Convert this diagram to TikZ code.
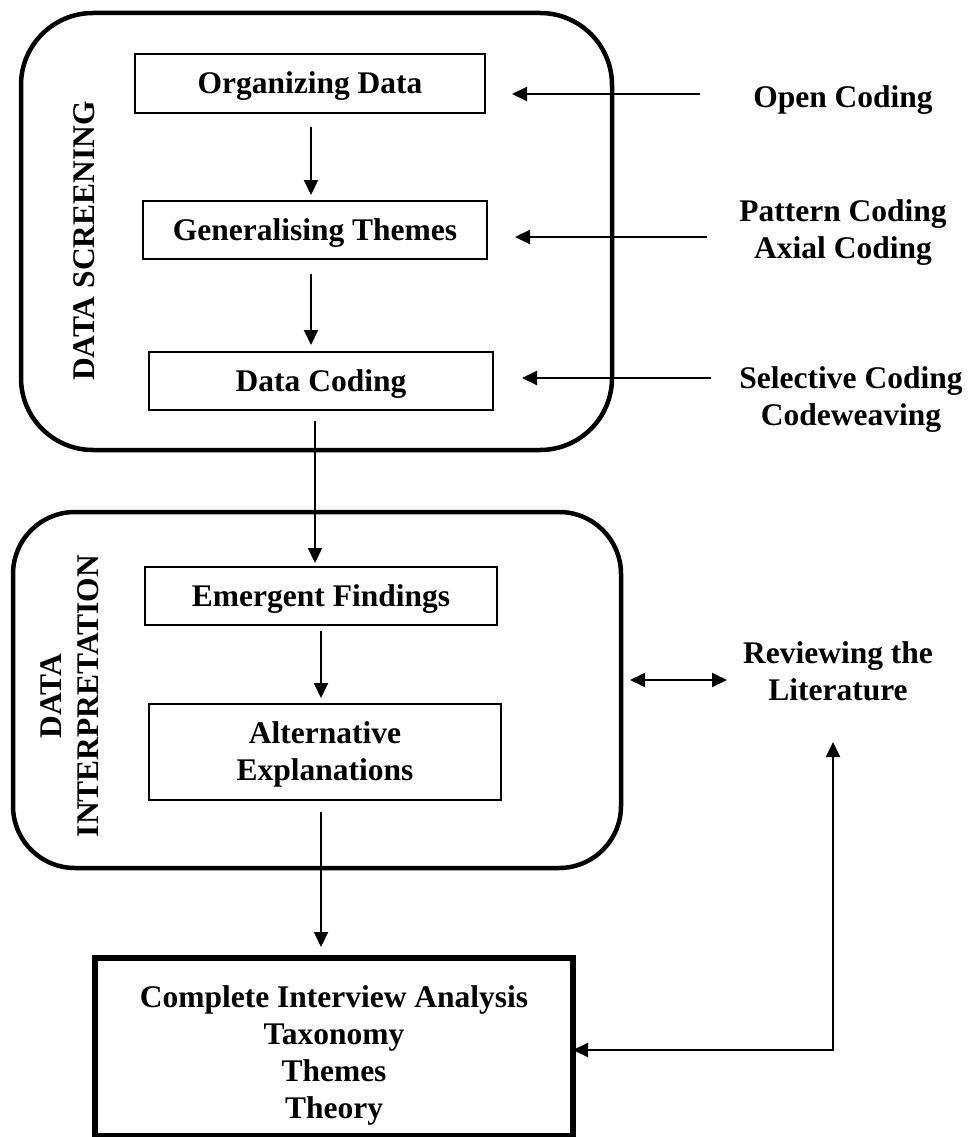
\documentclass[tikz,border=0pt]{standalone}
\usepackage{fontspec}
\setmainfont{Liberation Serif}
\usetikzlibrary{arrows.meta}
\newcommand\lowr[2]{\raisebox{-#1}[\height][\depth]{\begin{tabular}{@{}c@{}}#2\end{tabular}}}
\begin{document}
\begin{tikzpicture}[x=1pt,y=-1pt,
  every node/.style={font=\bfseries\fontsize{31.5}{37}\selectfont, inner sep=0pt, outer sep=0pt},
  stage/.style={draw, rounded corners=#1, line width=4.5pt},
  stepbox/.style={draw, line width=1.6pt, align=center},
  arr/.style={line width=2pt, -{Triangle[length=15pt,width=14pt]}},
  arrboth/.style={line width=2pt, {Triangle[length=15pt,width=14pt]}-{Triangle[length=15pt,width=14pt]}},
  side/.style={align=center}
]
\useasboundingbox (0,0) rectangle (969,1137);
% stage frames
\node[stage=72pt, minimum width=591pt, minimum height=437pt] (scr) at (316.5,231.5) {};
\node[stage=62pt, minimum width=608pt, minimum height=356pt] (int) at (317,690) {};
% stage labels
\node[rotate=90] (scrlab) at (84,241) {DATA SCREENING};
\node[rotate=90, align=center] (intlab) at (70,696) {DATA\\INTERPRETATION};
% steps
\node[stepbox, minimum width=350pt, minimum height=59pt] (org) at (310,83.5) {\lowr{3pt}{Organizing Data}};
\node[stepbox, minimum width=344pt, minimum height=58pt] (gen) at (315,230) {\lowr{3pt}{Generalising Themes}};
\node[stepbox, minimum width=344pt, minimum height=58pt] (dc) at (321,381) {\lowr{3pt}{Data Coding}};
\node[stepbox, minimum width=352pt, minimum height=58pt] (emf) at (321,596) {\lowr{3pt}{Emergent Findings}};
\node[stepbox, minimum width=352pt, minimum height=96pt] (alt) at (325,752) {\lowr{3pt}{Alternative\\Explanations}};
\node[draw, line width=5.5pt, minimum width=478pt, minimum height=178pt] (fin) at (334,1047)
  {\lowr{9pt}{Complete Interview Analysis\\Taxonomy\\Themes\\Theory}};
% side texts
\node[side] (oc) at (843,100) {Open Coding};
\node[side] (pc) at (843,233) {Pattern Coding\\Axial Coding};
\node[side] (sc) at (851,400) {Selective Coding\\Codeweaving};
\node[side] (rev) at (838,671) {Reviewing the\\Literature};
% flow arrows
\draw[arr, shorten >=6pt] ([xshift=1pt,yshift=-14pt]org.south) -- ([xshift=1pt]org.south |- gen.north);
\draw[arr, shorten >=7pt] ([xshift=-4pt,yshift=-15pt]gen.south) -- ([xshift=-4pt]gen.south |- dc.north);
\draw[arr, shorten >=4pt] ([xshift=-6pt,yshift=-11pt]dc.south) -- ([xshift=-6pt]dc.south |- emf.north);
\draw[arr, shorten >=6pt] ([yshift=-6pt]emf.south) -- (emf.south |- alt.north);
\draw[arr, shorten >=11pt] ([xshift=-4pt,yshift=-12pt]alt.south) -- ([xshift=-4pt]alt.south |- fin.north);
% side arrows
\coordinate (ocs) at (700,94);
\coordinate (pcs) at (707,237);
\coordinate (scs) at (711,378);
\draw[arr, shorten >=27pt] (ocs) -- (org.east |- ocs);
\draw[arr, shorten >=28pt] (pcs) -- (gen.east |- pcs);
\draw[arr, shorten >=29pt] (scs) -- (dc.east |- scs);
% literature links
\coordinate (dl) at (630,680);
\coordinate (dr) at (727,680);
\draw[arrboth] (dl) -- (dr);
\coordinate (revtip) at (833,742);
\draw[arrboth] (revtip) |- ([yshift=-3pt]fin.east);
\end{tikzpicture}
\end{document}
